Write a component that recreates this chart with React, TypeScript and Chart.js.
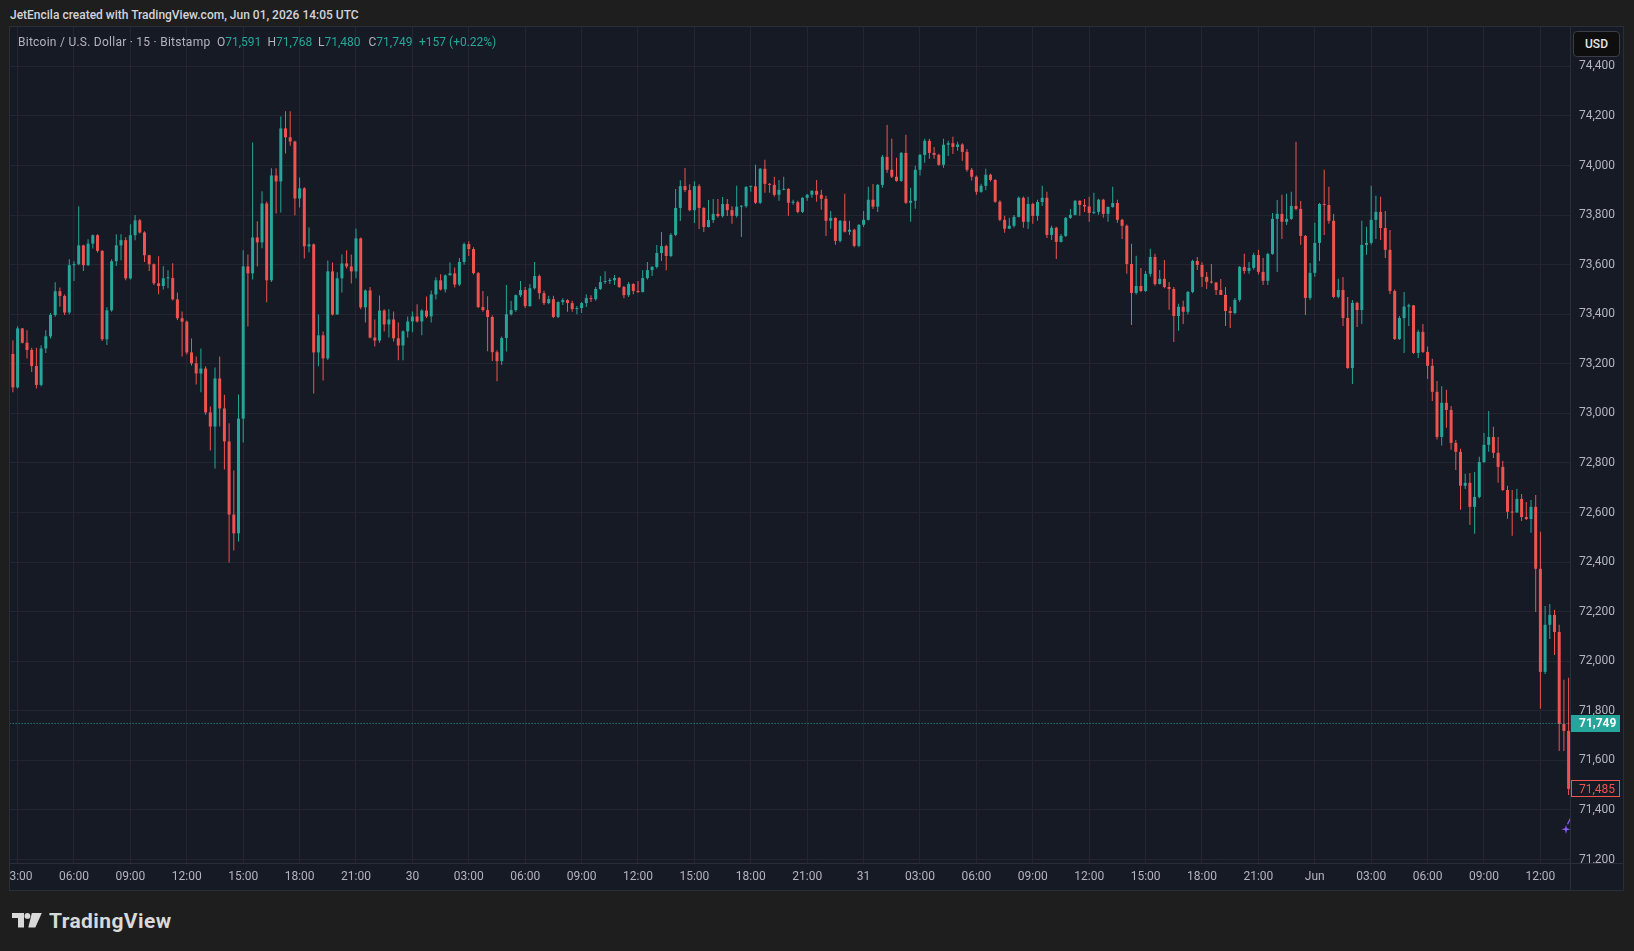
import React, { useEffect, useRef } from "react";
import { Chart, registerables } from "chart.js";

Chart.register(...registerables);

// ---------- data ----------
const headerText = "JetEncila created with TradingView.com, Jun 01, 2026 14:05 UTC";
const symbolTitle = "Bitcoin / U.S. Dollar · 15 · Bitstamp";
const legendKeys = ["O", "H", "L", "C"];
const legendValues = ["71,591", "71,768", "71,480", "71,749"];
const legendChange = "+157 (+0.22%)";
const currencyLabel = "USD";

const firstOpen = 73240;

const closes = [
  73105, 73343, 73285, 73256, 73191, 73115, 73262, 73311, 73397, 73493,
  73474, 73407, 73598, 73602, 73678, 73598, 73685, 73719, 73656, 73299,
  73416, 73614, 73678, 73699, 73545, 73719, 73779, 73730, 73638, 73602,
  73525, 73514, 73545, 73546, 73460, 73384, 73370, 73246, 73202, 73161,
  73181, 73004, 72947, 73141, 73020, 72887, 72592, 72516, 72979, 73593,
  73565, 73710, 73690, 73847, 73537, 73960, 73936, 74150, 74114, 74097,
  73867, 73908, 73674, 73682, 73246, 73315, 73222, 73573, 73399, 73545,
  73605, 73593, 73573, 73706, 73428, 73496, 73306, 73294, 73415, 73359,
  73379, 73303, 73274, 73331, 73371, 73391, 73371, 73415, 73391, 73480,
  73537, 73500, 73557, 73565, 73520, 73611, 73683, 73663, 73566, 73429,
  73417, 73389, 73247, 73211, 73304, 73400, 73417, 73477, 73498, 73433,
  73505, 73554, 73485, 73445, 73461, 73389, 73449, 73457, 73445, 73421,
  73425, 73445, 73465, 73461, 73502, 73530, 73534, 73537, 73546, 73510,
  73477, 73522, 73494, 73490, 73546, 73578, 73591, 73647, 73675, 73635,
  73720, 73829, 73917, 73901, 73820, 73917, 73829, 73752, 73780, 73805,
  73796, 73845, 73820, 73797, 73834, 73836, 73914, 73916, 73850, 73987,
  73926, 73922, 73882, 73902, 73906, 73850, 73852, 73813, 73870, 73882,
  73898, 73882, 73866, 73777, 73789, 73696, 73777, 73733, 73741, 73676,
  73761, 73781, 73862, 73834, 73922, 74035, 73983, 73955, 73938, 74051,
  73850, 73858, 73983, 74043, 74100, 74051, 74043, 74003, 74084, 74090,
  74075, 74085, 74055, 73983, 73955, 73894, 73918, 73963, 73942, 73854,
  73781, 73745, 73757, 73793, 73870, 73773, 73845, 73797, 73853, 73870,
  73720, 73749, 73692, 73716, 73789, 73801, 73858, 73841, 73835, 73809,
  73813, 73862, 73805, 73833, 73849, 73781, 73757, 73603, 73486, 73514,
  73494, 73563, 73631, 73522, 73543, 73510, 73502, 73393, 73430, 73410,
  73490, 73615, 73599, 73551, 73531, 73528, 73498, 73478, 73413, 73405,
  73458, 73591, 73575, 73587, 73639, 73571, 73535, 73643, 73785, 73805,
  73773, 73785, 73837, 73825, 73716, 73466, 73567, 73688, 73845, 73841,
  73777, 73470, 73498, 73385, 73183, 73446, 73417, 73680, 73688, 73781,
  73813, 73748, 73660, 73494, 73300, 73385, 73431, 73436, 73244, 73329,
  73248, 73192, 73087, 72905, 73043, 73014, 72881, 72845, 72708, 72720,
  72623, 72663, 72804, 72873, 72905, 72841, 72784, 72691, 72603, 72600,
  72655, 72582, 72574, 72623, 72373, 71957, 72147, 72187, 72118, 71747,
  71719, 71485,
];

const highs = [
  73295, 73352, 73345, 73335, 73265, 73265, 73275, 73335, 73405, 73529,
  73508, 73480, 73622, 73614, 73836, 73680, 73703, 73722, 73723, 73658,
  73428, 73622, 73723, 73723, 73711, 73763, 73800, 73784, 73735, 73640,
  73605, 73634, 73594, 73578, 73606, 73488, 73411, 73375, 73302, 73230,
  73262, 73190, 73028, 73185, 73230, 73075, 72960, 72770, 73076, 73658,
  73641, 74093, 73775, 73896, 73855, 73989, 73989, 74198, 74219, 74219,
  74100, 73952, 73912, 73750, 73685, 73399, 73330, 73617, 73609, 73569,
  73641, 73658, 73641, 73746, 73710, 73500, 73510, 73379, 73476, 73420,
  73420, 73411, 73367, 73335, 73391, 73411, 73440, 73420, 73472, 73496,
  73549, 73561, 73560, 73609, 73589, 73627, 73690, 73695, 73670, 73570,
  73494, 73473, 73395, 73255, 73310, 73518, 73453, 73480, 73534, 73510,
  73522, 73611, 73560, 73495, 73475, 73475, 73452, 73465, 73461, 73455,
  73433, 73449, 73481, 73477, 73510, 73554, 73574, 73546, 73558, 73550,
  73514, 73530, 73525, 73534, 73578, 73611, 73595, 73679, 73732, 73680,
  73728, 73905, 73941, 73990, 73925, 73937, 73925, 73832, 73861, 73865,
  73865, 73873, 73865, 73836, 73918, 73840, 73916, 73918, 74003, 73990,
  74023, 73930, 73955, 73942, 73955, 73908, 73862, 73858, 73872, 73885,
  73900, 73942, 73902, 73878, 73817, 73790, 73780, 73886, 73777, 73745,
  73763, 73817, 73914, 73926, 73926, 74043, 74164, 74108, 74031, 74055,
  74124, 73910, 73999, 74048, 74108, 74108, 74075, 74048, 74108, 74100,
  74116, 74096, 74090, 74067, 73990, 73960, 73927, 73987, 73967, 73945,
  73860, 73797, 73789, 73800, 73875, 73875, 73874, 73850, 73862, 73918,
  73894, 73757, 73753, 73724, 73792, 73825, 73860, 73860, 73865, 73874,
  73890, 73866, 73866, 73835, 73914, 73862, 73785, 73762, 73684, 73636,
  73587, 73575, 73664, 73644, 73579, 73619, 73530, 73510, 73442, 73454,
  73494, 73620, 73631, 73610, 73570, 73603, 73530, 73542, 73510, 73430,
  73466, 73595, 73644, 73611, 73648, 73660, 73627, 73648, 73809, 73861,
  73882, 73886, 73894, 74096, 73857, 73720, 73607, 73769, 73849, 73983,
  73914, 73805, 73543, 73550, 73470, 73458, 73450, 73777, 73753, 73918,
  73878, 73874, 73817, 73740, 73500, 73393, 73490, 73442, 73434, 73337,
  73361, 73270, 73220, 73131, 73110, 73095, 73030, 72893, 72857, 72756,
  72760, 72764, 72825, 72921, 73010, 72946, 72905, 72808, 72708, 72691,
  72696, 72675, 72643, 72651, 72671, 72522, 72223, 72231, 72208, 72147,
  71925, 71933,
];

const lows = [
  73085, 73100, 73282, 73222, 73167, 73100, 73110, 73244, 73302, 73390,
  73430, 73397, 73400, 73534, 73598, 73575, 73595, 73665, 73649, 73292,
  73276, 73410, 73595, 73618, 73537, 73540, 73699, 73726, 73611, 73575,
  73518, 73481, 73500, 73505, 73456, 73377, 73230, 73238, 73193, 73117,
  73085, 72995, 72850, 72778, 72947, 72774, 72398, 72447, 72483, 72883,
  73351, 73540, 73593, 73666, 73448, 73530, 73807, 73811, 74049, 74080,
  73799, 73831, 73625, 73650, 73080, 73190, 73133, 73215, 73395, 73488,
  73488, 73585, 73524, 73545, 73420, 73367, 73302, 73270, 73285, 73330,
  73306, 73290, 73214, 73214, 73306, 73327, 73367, 73315, 73385, 73367,
  73460, 73496, 73488, 73557, 73508, 73514, 73600, 73635, 73560, 73425,
  73410, 73251, 73211, 73130, 73195, 73250, 73395, 73410, 73470, 73425,
  73430, 73500, 73461, 73437, 73440, 73385, 73385, 73437, 73410, 73410,
  73400, 73405, 73429, 73449, 73455, 73498, 73522, 73522, 73518, 73506,
  73465, 73470, 73481, 73486, 73488, 73540, 73554, 73585, 73615, 73578,
  73630, 73715, 73776, 73893, 73816, 73768, 73744, 73732, 73750, 73768,
  73790, 73790, 73796, 73765, 73790, 73712, 73830, 73894, 73845, 73845,
  73890, 73890, 73875, 73858, 73900, 73797, 73842, 73808, 73809, 73858,
  73870, 73854, 73822, 73716, 73745, 73680, 73690, 73730, 73720, 73670,
  73670, 73752, 73778, 73825, 73813, 73910, 73971, 73950, 73935, 73935,
  73845, 73773, 73826, 73960, 74011, 74027, 74027, 73999, 73991, 74039,
  74047, 74060, 74019, 73975, 73940, 73882, 73890, 73900, 73936, 73850,
  73775, 73729, 73745, 73750, 73790, 73749, 73744, 73765, 73777, 73837,
  73708, 73700, 73623, 73690, 73712, 73785, 73798, 73797, 73813, 73773,
  73805, 73801, 73789, 73773, 73830, 73769, 73704, 73563, 73357, 73480,
  73490, 73490, 73551, 73515, 73520, 73505, 73418, 73288, 73333, 73361,
  73400, 73485, 73579, 73510, 73502, 73524, 73478, 73478, 73353, 73345,
  73400, 73450, 73563, 73563, 73580, 73560, 73518, 73518, 73640, 73571,
  73704, 73760, 73780, 73820, 73680, 73397, 73458, 73551, 73615, 73720,
  73765, 73465, 73465, 73353, 73180, 73119, 73349, 73361, 73640, 73680,
  73704, 73700, 73627, 73482, 73296, 73296, 73244, 73353, 73240, 73224,
  73244, 73139, 73050, 72895, 72870, 72942, 72853, 72772, 72611, 72695,
  72550, 72514, 72658, 72800, 72845, 72820, 72720, 72687, 72575, 72506,
  72600, 72566, 72570, 72518, 72199, 71808, 71949, 72090, 72025, 71638,
  71638, 71460,
];

// time axis labels: one every 12 candles (3 hours), first at candle 1 (03:00)
const timeTickLabels = [
  "03:00", "06:00", "09:00", "12:00", "15:00", "18:00", "21:00", "30",
  "03:00", "06:00", "09:00", "12:00", "15:00", "18:00", "21:00", "31",
  "03:00", "06:00", "09:00", "12:00", "15:00", "18:00", "21:00", "Jun",
  "03:00", "06:00", "09:00", "12:00",
];
const firstTickCandle = 1;
const candlesPerTick = 12;

const priceTicks = [
  71200, 71400, 71600, 71800, 72000, 72200, 72400, 72600, 72800,
  73000, 73200, 73400, 73600, 73800, 74000, 74200, 74400,
];

const currentPrice = 71749;
const markerPrice = 71322;

// ---------- styling ----------
const FONT = "Roboto, 'Noto Sans', 'DejaVu Sans', sans-serif";
const UP = "#26a69a";
const DOWN = "#ef5350";
const PANE_BG = "#161a25";
const PAGE_BG = "#1e1e1e";
const GRID = "#232632";
const AXIS_LINE = "#2a2e39";
const AXIS_TEXT = "#b2b5be";

const fmt = (v: number) => v.toLocaleString("en-US");

const decorPlugin = {
  id: "tvDecor",
  beforeDraw(chart: any) {
    const { ctx, width, height } = chart;
    ctx.save();
    ctx.fillStyle = PANE_BG;
    ctx.fillRect(0, 0, width, height);
    ctx.restore();
  },
  afterDraw(chart: any) {
    const { ctx, chartArea, width, height, scales } = chart;
    const yS = scales.y;
    const xS = scales.x;
    ctx.save();
    // hide price labels that spill into the time-axis strip
    ctx.fillStyle = PANE_BG;
    ctx.fillRect(chartArea.right + 1, chartArea.bottom + 1, width - chartArea.right, height - chartArea.bottom);
    // separators
    ctx.strokeStyle = AXIS_LINE;
    ctx.lineWidth = 1;
    ctx.beginPath();
    ctx.moveTo(0, Math.round(chartArea.bottom) + 0.5);
    ctx.lineTo(width, Math.round(chartArea.bottom) + 0.5);
    ctx.moveTo(Math.round(chartArea.right) + 0.5, 0);
    ctx.lineTo(Math.round(chartArea.right) + 0.5, height);
    ctx.stroke();

    // purple marker below the last candle
    const cx = xS.getPixelForValue(closes.length - 1) - 2.6;
    const cy = yS.getPixelForValue(markerPrice);
    ctx.save();
    ctx.beginPath();
    ctx.rect(chartArea.left, chartArea.top, chartArea.right - chartArea.left, chartArea.bottom - chartArea.top);
    ctx.clip();
    ctx.strokeStyle = "#8b5cf6";
    ctx.lineWidth = 1.2;
    ctx.beginPath();
    ctx.moveTo(cx + 1.5, cy - 5);
    ctx.lineTo(cx + 4.5, cy - 11);
    ctx.stroke();
    ctx.fillStyle = "#8b5cf6";
    ctx.beginPath();
    for (let k = 0; k < 8; k++) {
      const a = (k * Math.PI) / 4 - Math.PI / 2;
      const r = k % 2 === 0 ? 4.6 : 1.3;
      const px = cx + r * Math.cos(a);
      const py = cy + r * Math.sin(a);
      if (k === 0) ctx.moveTo(px, py);
      else ctx.lineTo(px, py);
    }
    ctx.closePath();
    ctx.fill();
    ctx.restore();

    // price labels on the axis
    const boxX = chartArea.right + 1;
    const boxW = width - boxX - 3;
    const boxH = 17;
    ctx.font = `bold 12px ${FONT}`;
    ctx.textBaseline = "middle";
    ctx.textAlign = "left";
    const yc = yS.getPixelForValue(currentPrice);
    ctx.fillStyle = UP;
    ctx.fillRect(boxX, Math.round(yc - boxH / 2), boxW, boxH);
    ctx.fillStyle = "#ffffff";
    ctx.fillText(fmt(currentPrice), chartArea.right + 9, Math.round(yc) + 0.5);

    const lastClose = closes[closes.length - 1];
    const yl = yS.getPixelForValue(lastClose);
    ctx.fillStyle = PANE_BG;
    ctx.fillRect(boxX, Math.round(yl - boxH / 2), boxW, boxH);
    ctx.strokeStyle = DOWN;
    ctx.strokeRect(boxX + 0.5, Math.round(yl - boxH / 2) + 0.5, boxW - 1, boxH - 1);
    ctx.font = `12px ${FONT}`;
    ctx.fillStyle = DOWN;
    ctx.fillText(fmt(lastClose), chartArea.right + 9, Math.round(yl) + 0.5);
    ctx.restore();
  },
};

export default function App() {
  const canvasRef = useRef<HTMLCanvasElement>(null);

  useEffect(() => {
    const opens = closes.map((c, i) => (i === 0 ? firstOpen : closes[i - 1]));
    const colors = closes.map((c, i) => (c >= opens[i] ? UP : DOWN));
    const bodyData = closes.map((c, i) => ({ x: i, y: [opens[i], c] }));
    const wickData = closes.map((c, i) => ({
      x: i,
      y: [Math.min(lows[i], opens[i], c), Math.max(highs[i], opens[i], c)],
    }));

    const pxPerCandle = 4.7;
    const plotWidth = 1560;
    const xMin = -0.617;
    const xMax = xMin + plotWidth / pxPerCandle;
    const yMax = 74559;
    const yMin = 71186;

    const chart = new Chart(canvasRef.current as HTMLCanvasElement, {
      type: "bar",
      data: {
        datasets: [
          {
            type: "line",
            data: [
              { x: xMin - 2, y: currentPrice },
              { x: xMax + 2, y: currentPrice },
            ],
            borderColor: UP,
            borderWidth: 1,
            borderDash: [1, 2],
            pointRadius: 0,
            order: 0,
          } as any,
          {
            type: "bar",
            data: bodyData,
            backgroundColor: colors,
            barThickness: 3,
            minBarLength: 1,
            grouped: false,
            borderWidth: 0,
            inflateAmount: 0,
            order: 1,
          } as any,
          {
            type: "bar",
            data: wickData,
            backgroundColor: colors,
            barThickness: 1,
            grouped: false,
            borderWidth: 0,
            inflateAmount: 0,
            order: 2,
          } as any,
        ],
      },
      options: {
        animation: false,
        responsive: true,
        maintainAspectRatio: false,
        events: [],
        layout: { padding: 0 },
        plugins: { legend: { display: false }, tooltip: { enabled: false } },
        scales: {
          x: {
            type: "linear",
            min: xMin,
            max: xMax,
            offset: false,
            grid: { color: GRID, offset: false, drawTicks: false },
            border: { display: false },
            ticks: {
              color: AXIS_TEXT,
              font: { family: FONT, size: 12 },
              padding: 7,
              maxRotation: 0,
              autoSkip: false,
              callback: (_v: any, index: number) => timeTickLabels[index] ?? "",
            },
            afterBuildTicks: (s: any) => {
              s.ticks = timeTickLabels.map((_, k) => ({ value: firstTickCandle + k * candlesPerTick }));
            },
            afterFit: (s: any) => {
              s.height = 27;
              s.paddingLeft = 0;
              s.paddingRight = 0;
            },
          },
          y: {
            type: "linear",
            position: "right",
            min: yMin,
            max: yMax,
            beginAtZero: false,
            grid: { color: GRID, drawTicks: false },
            border: { display: false },
            ticks: {
              color: AXIS_TEXT,
              font: { family: FONT, size: 12 },
              padding: 9,
              autoSkip: false,
              callback: (v: any) => fmt(Number(v)),
            },
            afterBuildTicks: (s: any) => {
              s.ticks = priceTicks.map((v) => ({ value: v }));
            },
            afterFit: (s: any) => {
              s.width = 53;
              s.paddingTop = 0;
              s.paddingBottom = 0;
            },
          },
        },
      } as any,
      plugins: [decorPlugin as any],
    });
    return () => chart.destroy();
  }, []);

  return (
    <div
      style={{
        position: "fixed",
        left: 0,
        top: 0,
        width: 1634,
        height: 951,
        background: PAGE_BG,
        overflow: "hidden",
        fontFamily: FONT,
      }}
    >
      <div
        style={{
          position: "absolute",
          left: 10,
          top: 7,
          fontSize: 12,
          lineHeight: "16px",
          fontWeight: 500,
          color: "#d1d4dc",
          whiteSpace: "nowrap",
        }}
      >
        {headerText}
      </div>

      <div
        style={{
          position: "absolute",
          left: 9,
          top: 26,
          width: 1615,
          height: 865,
          border: `1px solid ${AXIS_LINE}`,
          boxSizing: "border-box",
        }}
      />

      <div style={{ position: "absolute", left: 10, top: 27, width: 1613, height: 863 }}>
        <canvas ref={canvasRef} />
      </div>

      <div
        style={{
          position: "absolute",
          left: 0,
          top: 35,
          fontSize: 12,
          lineHeight: "14px",
          color: AXIS_TEXT,
          whiteSpace: "nowrap",
        }}
      >
        <span style={{ position: "absolute", left: 18, letterSpacing: 0.25 }}>{symbolTitle}</span>
        {legendKeys.map((k, i) => (
          <span key={k} style={{ position: "absolute", left: 217 + i * 50.5 }}>
            {k}
            <span style={{ color: UP }}>{legendValues[i]}</span>
          </span>
        ))}
        <span style={{ position: "absolute", left: 419, color: UP }}>{legendChange}</span>
      </div>

      <div
        style={{
          position: "absolute",
          left: 1573,
          top: 31,
          width: 47,
          height: 26,
          boxSizing: "border-box",
          border: "1px solid #3a3d45",
          borderRadius: 4,
          background: "#0e0e0e",
          color: "#e6e6e6",
          fontSize: 12,
          fontWeight: 500,
          lineHeight: "24px",
          textAlign: "center",
        }}
      >
        {currencyLabel}
      </div>

      <svg
        width="30"
        height="15"
        viewBox="0 0 30 15"
        style={{ position: "absolute", left: 12, top: 913 }}
      >
        <path d="M0 0 H12 V14.5 H6 V5 H0 Z" fill="#d9d9d9" />
        <circle cx="15.4" cy="2.9" r="2.9" fill="#d9d9d9" />
        <path d="M19.8 0 H29.8 L23.3 14.5 H16.3 Z" fill="#d9d9d9" />
      </svg>
      <div
        style={{
          position: "absolute",
          left: 49,
          top: 909,
          fontSize: 21,
          lineHeight: "24px",
          fontWeight: 700,
          color: "#d9d9d9",
          letterSpacing: 0.4,
        }}
      >
        TradingView
      </div>
    </div>
  );
}
